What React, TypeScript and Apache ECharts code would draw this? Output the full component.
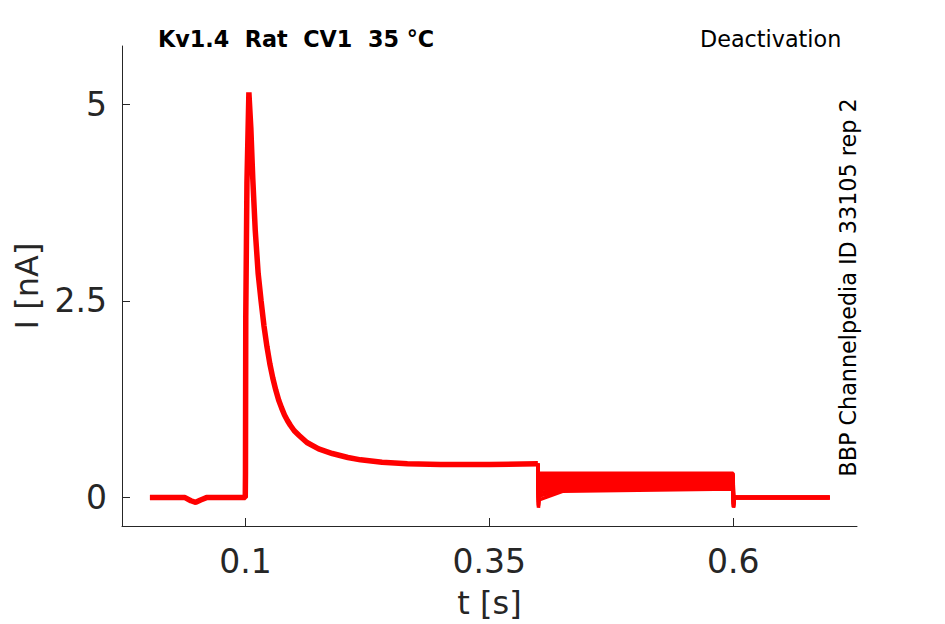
import React, { useEffect, useRef } from "react";
import * as echarts from "echarts";

// Shared part of every sweep (baseline, activation peak, decay to steady state)
const activationT = [0.002, 0.038, 0.044, 0.049, 0.054, 0.06, 0.0998, 0.1, 0.1003, 0.1015, 0.1035, 0.1055, 0.1075, 0.11, 0.113, 0.116, 0.119, 0.122, 0.125, 0.128, 0.131, 0.134, 0.137, 0.14, 0.143, 0.146, 0.15, 0.155, 0.163, 0.175, 0.189, 0.205, 0.218, 0.24, 0.266, 0.3, 0.35, 0.3998];
const activationI = [0.0, 0.0, -0.04, -0.06, -0.03, 0.0, 0.0, 0.3, 2.3, 4.0, 5.15, 4.7, 4.05, 3.4, 2.85, 2.5, 2.18, 1.92, 1.7, 1.52, 1.37, 1.24, 1.14, 1.05, 0.98, 0.92, 0.85, 0.79, 0.7, 0.62, 0.56, 0.51, 0.48, 0.45, 0.43, 0.42, 0.42, 0.43];

// Deactivation step (0.4 s – 0.6 s) and return to holding, one value per sweep
const stepT = [0.4, 0.4004, 0.401, 0.425, 0.6, 0.6004, 0.601, 0.699];
const onsetDipI = [0.2, 0.16, 0.12, 0.08, 0.04, 0.0, -0.03, -0.06, -0.09, -0.11, -0.13];
const stepStartI = [0.31, 0.28, 0.25, 0.22, 0.19, 0.16, 0.13, 0.1, 0.06, 0.02, -0.03];
const stepMidI = [0.31, 0.285, 0.26, 0.24, 0.215, 0.19, 0.17, 0.145, 0.12, 0.1, 0.08];
const stepEndI = [0.31, 0.29, 0.27, 0.25, 0.23, 0.21, 0.19, 0.17, 0.15, 0.13, 0.11];
const offsetDipI = [-0.02, -0.04, -0.06, -0.08, -0.1, -0.12, -0.13, -0.12, -0.1, -0.08, -0.06];
const tailI = [0.0, 0.0, 0.0, 0.0, 0.0, 0.0, 0.0, 0.0, 0.0, 0.0, 0.0];

const xTicks = [0.1, 0.35, 0.6];
const yTicks = [0, 2.5, 5];

const FONT = "DejaVu Sans";
const AXIS_COLOR = "#262626";
const RED = "#ff0000";

export default function App() {
  const ref = useRef<HTMLDivElement>(null);

  useEffect(() => {
    if (!ref.current) return;
    const chart = echarts.init(ref.current, undefined, { renderer: "svg" });

    const lastI = activationI[activationI.length - 1];
    const lastT = activationT[activationT.length - 1];

    const shared = {
      type: "line" as const,
      data: activationT.map((t, i) => [t, activationI[i]]),
      showSymbol: false,
      symbol: "none",
      lineStyle: { color: RED, width: 5.5 },
      emphasis: { disabled: true },
      silent: true,
      z: 3,
    };

    const sweeps = stepStartI.map((_, k) => {
      const vals = [onsetDipI[k], stepStartI[k], stepMidI[k], stepEndI[k], offsetDipI[k], tailI[k], tailI[k]];
      const data: number[][] = [[lastT, lastI], [stepT[0], lastI]];
      for (let i = 1; i < stepT.length; i++) data.push([stepT[i], vals[i - 1]]);
      return {
        type: "line" as const,
        data,
        showSymbol: false,
        symbol: "none",
        lineStyle: { color: RED, width: 3.5 },
        emphasis: { disabled: true },
        silent: true,
        z: 2,
      };
    });

    chart.setOption({
      animation: false,
      backgroundColor: "#ffffff",
      grid: { left: 122, right: 88, top: 46, bottom: 98 },
      xAxis: {
        type: "value",
        min: -0.0266,
        max: 0.727,
        name: "t [s]",
        nameLocation: "middle",
        nameGap: 61,
        nameTextStyle: { fontFamily: FONT, fontSize: 32, color: AXIS_COLOR },
        axisLine: { show: true, onZero: false, lineStyle: { color: AXIS_COLOR, width: 1 } },
        axisTick: { show: true, inside: true, length: 8, customValues: xTicks, lineStyle: { color: AXIS_COLOR } },
        axisLabel: { customValues: xTicks, margin: 19, fontFamily: FONT, fontSize: 33, color: AXIS_COLOR },
        splitLine: { show: false },
      },
      yAxis: {
        type: "value",
        min: -0.361,
        max: 5.74,
        name: "I [nA]",
        nameLocation: "middle",
        nameGap: 79,
        nameTextStyle: { fontFamily: FONT, fontSize: 32, color: AXIS_COLOR },
        axisLine: { show: true, onZero: false, lineStyle: { color: AXIS_COLOR, width: 1 } },
        axisTick: { show: true, inside: true, length: 8, customValues: yTicks, lineStyle: { color: AXIS_COLOR } },
        axisLabel: { customValues: yTicks, margin: 15, fontFamily: FONT, fontSize: 33, color: AXIS_COLOR },
        splitLine: { show: false },
      },
      graphic: [
        {
          type: "text",
          x: 158,
          y: 39,
          style: { text: "Kv1.4  Rat  CV1  35 °C", fontFamily: FONT, fontSize: 22.3, fontWeight: "bold", fill: "#000", align: "left", verticalAlign: "middle" },
        },
        {
          type: "text",
          x: 700,
          y: 38.5,
          style: { text: "Deactivation", fontFamily: FONT, fontSize: 22.3, fill: "#000", align: "left", verticalAlign: "middle" },
        },
        {
          type: "text",
          x: 848,
          y: 287.5,
          rotation: Math.PI / 2,
          style: { text: "BBP Channelpedia ID 33105 rep 2", fontFamily: FONT, fontSize: 22.3, fill: "#000", align: "center", verticalAlign: "middle" },
        },
      ],
      series: [...sweeps, shared],
    });

    return () => chart.dispose();
  }, []);

  return <div ref={ref} style={{ position: "fixed", left: 0, top: 0, width: 945, height: 624 }} />;
}
